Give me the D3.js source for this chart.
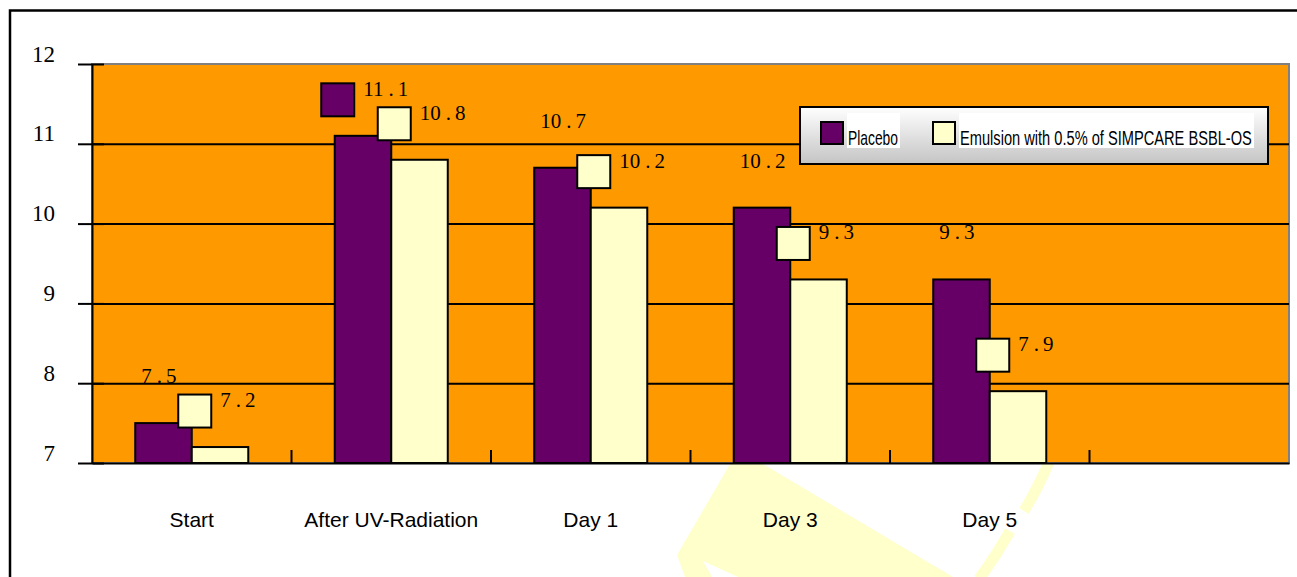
<!DOCTYPE html>
<html lang="en">
<head>
<meta charset="UTF-8">
<title>uv-bars</title>
<script src="https://cdn.jsdelivr.net/npm/d3@7"></script>
<style>
    body{
        margin: 0;
        background: #fff;
    }
    svg{
        display: block;
    }
    .num{
        font-family: "Liberation Serif", "DejaVu Serif", serif;
    }
    .cat{
        font-family: "Liberation Sans", Arial, sans-serif;
    }
</style>
</head>
<body>
<svg class="chart"></svg>
<script>
    // data
    var categories = ["Start", "After UV-Radiation", "Day 1", "Day 3", "Day 5"];
    var seriesNames = ["Placebo", "Emulsion with 0.5% of SIMPCARE BSBL-OS"];
    var placebo = [7.5, 11.1, 10.7, 10.2, 9.3];
    var emulsion = [7.2, 10.8, 10.2, 9.3, 7.9];
    var yTicks = [7, 8, 9, 10, 11, 12];
    // in the original only this placebo label kept its little key box
    var placeboKeyAt = ["After UV-Radiation"];

    var colors = ["#660066", "#ffffcc"];
    var width = 1297, height = 577;
    // plot box (note: "top" is taken by window.top, so prefixed names)
    var plotL = 92, plotR = 1289, plotT = 64, plotB = 463;

    var svg = d3.select('.chart')
        .attr('width', width)
        .attr('height', height);

    // one empty slot at the end, like the original
    var slots = categories.concat([""]);
    var x0 = d3.scaleBand().domain(slots).range([plotL, plotR]);
    var x1 = d3.scaleBand().domain(seriesNames)
        .range([0, x0.bandwidth()])
        .paddingInner(0)
        .paddingOuter(0.765);
    var y = d3.scaleLinear().domain([7, 12]).range([plotB, plotT]);

    var rows = categories.map(function (c, i) {
        return {cat: c, values: [placebo[i], emulsion[i]]};
    });

    // outer frame
    svg.append('path')
        .attr('d', 'M10,' + (height + 5) + 'V10.5H' + (width + 5))
        .attr('fill', 'none')
        .attr('stroke', '#000')
        .attr('stroke-width', 2.5);

    // watermark remains below the plot
    var wm = svg.append('g').attr('class', 'watermark').attr('fill', '#ffffcc');
    wm.append('polygon')
        .attr('points', '730,464 763,464 953,577 738,577 703,561 712,577 685,577 677,555');
    wm.append('path')
        .attr('d', 'M1049,462 Q1038,488 1024,511 M1010,531 Q996,556 979,579')
        .attr('fill', 'none')
        .attr('stroke', '#ffffcc')
        .attr('stroke-width', 11);

    // plot area
    svg.append('rect')
        .attr('x', plotL).attr('y', plotT)
        .attr('width', plotR - plotL).attr('height', plotB - plotT)
        .attr('fill', '#ff9900')
        .attr('stroke', '#808080')
        .attr('stroke-width', 2);

    // gridlines
    svg.append('g')
        .attr('class', 'grid')
        .attr('transform', 'translate(' + plotL + ',0)')
        .call(d3.axisLeft(y).tickValues(yTicks.slice(1, -1)).tickSize(-(plotR - plotL)).tickFormat(''))
        .call(function (g) {
            g.select('.domain').remove();
            g.selectAll('line').attr('stroke', '#000').attr('stroke-width', 2);
        });

    // category boundary ticks
    svg.append('g')
        .selectAll('line')
        .data(slots.slice(1))
        .enter()
        .append('line')
        .attr('x1', function (d) { return x0(d); })
        .attr('x2', function (d) { return x0(d); })
        .attr('y1', plotB)
        .attr('y2', plotB - 13)
        .attr('stroke', '#000')
        .attr('stroke-width', 2);

    // bars
    var groups = svg.append('g')
        .selectAll('g')
        .data(rows)
        .enter()
        .append('g')
        .attr('transform', function (d) { return 'translate(' + x0(d.cat) + ',0)'; });

    groups.selectAll('rect')
        .data(function (d) { return d.values; })
        .enter()
        .append('rect')
        .attr('x', function (d, j) { return x1(seriesNames[j]); })
        .attr('y', function (d) { return y(d); })
        .attr('width', x1.bandwidth())
        .attr('height', function (d) { return plotB - y(d); })
        .attr('fill', function (d, j) { return colors[j]; })
        .attr('stroke', '#000')
        .attr('stroke-width', 2);

    // y axis
    svg.append('g')
        .attr('transform', 'translate(' + plotL + ',0)')
        .call(d3.axisLeft(y).tickValues(yTicks).tickSizeInner(14).tickSizeOuter(0).tickPadding(23).tickFormat(d3.format('d')))
        .call(function (g) {
            g.select('.domain').attr('stroke', '#000').attr('stroke-width', 2);
            g.selectAll('.tick line').attr('stroke', '#000').attr('stroke-width', 2);
            g.selectAll('.tick').append('line')
                .attr('x2', 12).attr('stroke', '#000').attr('stroke-width', 2);
            g.selectAll('.tick text')
                .attr('class', 'num')
                .attr('dy', -3)
                .attr('font-size', 23)
                .attr('fill', '#000');
        });

    // x axis
    svg.append('g')
        .attr('transform', 'translate(0,' + plotB + ')')
        .call(d3.axisBottom(x0).tickSize(0).tickSizeOuter(0))
        .call(function (g) {
            g.select('.domain').attr('stroke', '#000').attr('stroke-width', 2);
            g.selectAll('.tick text')
                .attr('class', 'cat')
                .attr('y', 64)
                .attr('dy', 0)
                .attr('font-size', 21)
                .attr('fill', '#000');
        });

    // data labels with their little key boxes
    var labels = [];
    rows.forEach(function (r) {
        r.values.forEach(function (v, j) {
            labels.push({
                cat: r.cat, v: v, j: j,
                key: j === 1 || placeboKeyAt.indexOf(r.cat) >= 0
            });
        });
    });

    var lab = svg.append('g')
        .selectAll('g')
        .data(labels)
        .enter()
        .append('g')
        .attr('transform', function (d) {
            return 'translate(' + (x0(d.cat) + x1(seriesNames[d.j])) + ',' + y(d.v) + ')';
        });

    lab.filter(function (d) { return d.key; })
        .append('rect')
        .attr('x', 3 - 16.5)
        .attr('y', -36 - 16.5)
        .attr('width', 33)
        .attr('height', 33)
        .attr('fill', function (d) { return colors[d.j]; })
        .attr('stroke', '#000')
        .attr('stroke-width', 2);

    var lt = lab.append('text')
        .attr('class', 'num')
        .attr('x', function (d) { return d.key ? 3 + 16.5 + 9 : 6; })
        .attr('y', -40)
        .attr('font-size', 21)
        .attr('fill', '#000');
    lt.append('tspan').text(function (d) { return String(Math.floor(d.v)); });
    lt.append('tspan').attr('dx', 5).text('.');
    lt.append('tspan').attr('dx', 4).text(function (d) { return d3.format('.1f')(d.v).split('.')[1]; });

    // legend
    var grad = svg.append('defs').append('linearGradient')
        .attr('id', 'legfill')
        .attr('x1', 0).attr('y1', 0).attr('x2', 0).attr('y2', 1);
    grad.append('stop').attr('offset', '0%').attr('stop-color', '#ffffff');
    grad.append('stop').attr('offset', '100%').attr('stop-color', '#c4c4c4');

    var legend = svg.append('g').attr('transform', 'translate(800,107)');
    legend.append('rect')
        .attr('width', 468).attr('height', 57)
        .attr('fill', 'url(#legfill)')
        .attr('stroke', '#000')
        .attr('stroke-width', 2);

    var legItems = [
        {name: seriesNames[0], x: 21, w: 50},
        {name: seriesNames[1], x: 133, w: 292}
    ];
    var li = legend.selectAll('g.item')
        .data(legItems)
        .enter()
        .append('g')
        .attr('class', 'item')
        .attr('transform', function (d) { return 'translate(' + d.x + ',0)'; });
    li.append('rect')
        .attr('x', 26).attr('y', 6)
        .attr('width', function (d) { return d.w + 3; }).attr('height', 35)
        .attr('fill', '#fff');
    li.append('rect')
        .attr('y', 15).attr('width', 22).attr('height', 22)
        .attr('fill', function (d, i) { return colors[i]; })
        .attr('stroke', '#000')
        .attr('stroke-width', 2);
    // squeeze the legend text horizontally, the original uses a narrow face
    li.append('text')
        .attr('class', 'cat')
        .attr('font-size', 20)
        .attr('fill', '#000')
        .text(function (d) { return d.name; })
        .attr('transform', function (d) {
            var k = d.w / this.getComputedTextLength();
            return 'translate(27,38) scale(' + k + ',1)';
        });
</script>
</body>
</html>
